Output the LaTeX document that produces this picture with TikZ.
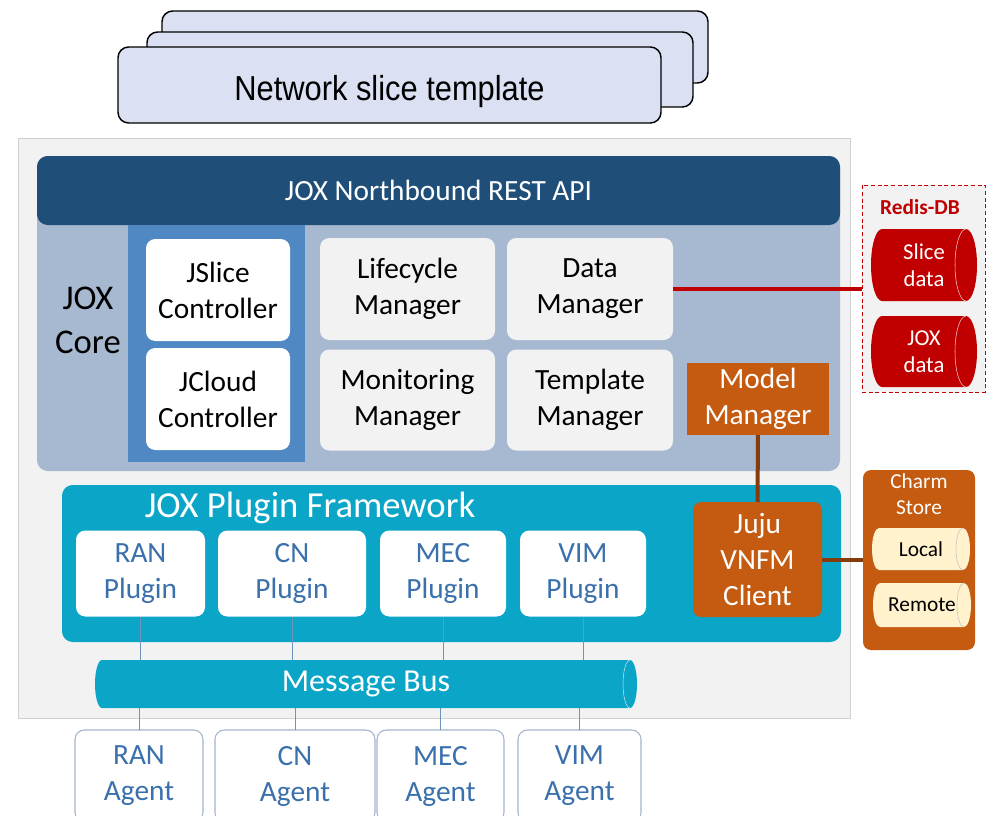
\documentclass[tikz,border=0pt]{standalone}
\usepackage{fontspec}
\setmainfont{Carlito}
\newfontfamily\arialf{Liberation Sans}
\pgfdeclarelayer{fg}
\pgfsetlayers{main,fg}
\definecolor{tmplfill}{HTML}{DCE0F3}
\definecolor{outerfill}{HTML}{F2F2F2}
\definecolor{outerdraw}{HTML}{D0D0D0}
\definecolor{apiblue}{HTML}{1F4E79}
\definecolor{coregray}{HTML}{A7B8D1}
\definecolor{ctrlblue}{HTML}{5088C3}
\definecolor{mgrgray}{HTML}{F2F2F2}
\definecolor{orng}{HTML}{C55A11}
\definecolor{brwn}{HTML}{843C0C}
\definecolor{dred}{HTML}{C00000}
\definecolor{teal}{HTML}{0BA5C8}
\definecolor{plgblue}{HTML}{3A70AC}
\definecolor{agentdraw}{HTML}{A5B6CC}
\definecolor{linkblue}{HTML}{6E93BC}
\definecolor{localfill}{HTML}{FFF2CC}
% cylinder body: node name, fill, x radius (px), y radius (px), inner arc colour
\newcommand\drawcyl[5]{%
  \fill[#2] ([xshift=#3*0.75pt]#1.north west) -- ([xshift=-#3*0.75pt]#1.north east)
    arc[start angle=90,end angle=-90,x radius=#3*0.75pt,y radius=#4*0.75pt]
    -- ([xshift=#3*0.75pt]#1.south west)
    arc[start angle=270,end angle=90,x radius=#3*0.75pt,y radius=#4*0.75pt] -- cycle;
  \draw[#5,line width=0.4pt] ([xshift=-#3*0.75pt]#1.north east)
    arc[start angle=90,end angle=270,x radius=#3*0.75pt,y radius=#4*0.75pt];
}
\begin{document}
\begin{tikzpicture}[x=0.75pt,y=-0.75pt,
  wh/.style 2 args={minimum width=#1*0.75pt,minimum height=#2*0.75pt},
  every node/.style={inner sep=0pt,outer sep=0pt,align=center},
  tmpl/.style={draw=black,line width=1.1pt,fill=tmplfill,rounded corners=8pt},
  box/.style={fill=white,rounded corners=7pt,font=\fontsize{22}{27}\selectfont},
  mgr/.style={fill=mgrgray,rounded corners=7pt,font=\fontsize{22}{27}\selectfont},
  plg/.style={fill=white,rounded corners=7pt,text=plgblue,font=\fontsize{22}{27}\selectfont},
  agt/.style={fill=white,draw=agentdraw,line width=0.8pt,rounded corners=7pt,text=plgblue,font=\fontsize{22}{27}\selectfont},
  link/.style={draw=linkblue,line width=0.7pt},
]
\useasboundingbox (0,0) rectangle (986,815);
% template stack
\node[tmpl,wh={546}{72}] (tback) at (435,47) {};
\node[tmpl,wh={546}{75}] (tmid) at (420,69.5) {};
\node[tmpl,wh={543}{76},font=\arialf\fontsize{26}{30}\selectfont] (tfront) at (389.5,85) {\raisebox{-11.5pt}[0pt][0pt]{\scalebox{0.89}[1]{Network slice template}}};
% outer panel
\node[fill=outerfill,draw=outerdraw,line width=0.6pt,wh={832}{580}] (outer) at (434,428) {};
% core
\node[fill=coregray,rounded corners=8pt,wh={803}{315}] (core) at (438.5,313.5) {};
\node[fill=apiblue,rounded corners=8pt,wh={803}{69},text=white,font=\fontsize{22}{27}\selectfont] (api) at (438.5,190.5) {JOX Northbound REST API};
\node[font=\fontsize{26}{33}\selectfont] (corelbl) at (88,320) {JOX\\Core};
\node[fill=ctrlblue,wh={177}{237}] (ctrl) at (216.5,343.5) {};
\node[box,wh={144}{102}] (jslice) at (218,290) {JSlice\\Controller};
\node[box,wh={144}{102}] (jcloud) at (218,399) {JCloud\\Controller};
\node[mgr,wh={175}{102}] (life) at (407.5,289) {Lifecycle\\Manager};
\node[mgr,wh={166}{102}] (data) at (590,289) {Data\\Manager};
\node[mgr,wh={175}{101}] (mon) at (407.5,400) {Monitoring\\Manager};
\node[mgr,wh={166}{101}] (tmpm) at (590,400) {Template\\Manager};
\node[fill=orng,wh={142}{72},text=white,font=\fontsize{22}{27}\selectfont] (model) at (758,399) {Model\\Manager};
% redis
\node[fill=outerfill,draw=dred,densely dashed,line width=0.5pt,wh={123}{207}] (redis) at (923.5,288.5) {};
\node[text=dred,font=\bfseries\fontsize{16}{20}\selectfont] (redist) at (920,207) {Redis-DB};
\begin{pgfonlayer}{fg}
\node[wh={106}{72},text=white,font=\fontsize{17}{20}\selectfont] (slice) at (924,265) {Slice\\data};
\node[wh={106}{71},text=white,font=\fontsize{17}{20}\selectfont] (joxd) at (924,351.5) {JOX\\data};
\end{pgfonlayer}
\drawcyl{slice}{dred}{11}{36}{white!80!dred}
\drawcyl{joxd}{dred}{11}{35.5}{white!80!dred}
% plugin framework
\node[fill=teal,rounded corners=8pt,wh={779}{157}] (pf) at (451.5,563.5) {};
\node[text=white,font=\fontsize{27.5}{33}\selectfont] (pft) at (310,508) {JOX Plugin Framework};
\node[plg,wh={129}{86}] (ranp) at (140.5,573.5) {RAN\\Plugin};
\node[plg,wh={148}{86}] (cnp) at (292,573.5) {CN\\Plugin};
\node[plg,wh={126}{86}] (mecp) at (443,573.5) {MEC\\Plugin};
\node[plg,wh={126}{86}] (vimp) at (583,573.5) {VIM\\Plugin};
\node[fill=orng,rounded corners=6pt,wh={129}{115},text=white,font=\fontsize{22}{27}\selectfont] (juju) at (757.5,559.5) {Juju\\VNFM\\Client};
% charm store
\node[fill=orng,rounded corners=6pt,wh={112}{180}] (charm) at (919,560) {};
\node[text=white,font=\fontsize{16}{19}\selectfont] (charmt) at (919,494) {Charm\\Store};
\begin{pgfonlayer}{fg}
\node[wh={98}{42},font=\fontsize{16}{19}\selectfont] (local) at (921,549) {Local};
\node[wh={98}{44},font=\fontsize{16}{19}\selectfont] (remote) at (922,605) {Remote};
\end{pgfonlayer}
\drawcyl{local}{localfill}{7}{21}{gray!50}
\drawcyl{remote}{localfill}{7}{22}{gray!50}
% message bus
\begin{pgfonlayer}{fg}
\node[wh={542}{48},text=white,font=\fontsize{24}{29}\selectfont] (bus) at (366,684) {Message Bus};
\end{pgfonlayer}
\drawcyl{bus}{teal}{7}{24}{white!75!teal}
% agents
\node[agt,wh={128}{92}] (rana) at (139,776) {RAN\\Agent};
\node[agt,wh={160}{92}] (cna) at (295,776) {CN\\Agent};
\node[agt,wh={127}{92}] (meca) at (440.5,776) {MEC\\Agent};
\node[agt,wh={123}{92}] (vima) at (579.5,776) {VIM\\Agent};
% connectors
\draw[dred,line width=2.4pt] (data.east) -- (data.east -| redis.west);
\draw[brwn,line width=3pt] (model.south) -- (juju.north);
\draw[brwn,line width=3pt] (juju.east) -- (juju.east -| charm.west);
\foreach \p/\a in {ranp/rana,cnp/cna,mecp/meca,vimp/vima}{
  \draw[link] (\p.south) -- (\p.south |- bus.north);
  \draw[link] (\a.north |- bus.south) -- (\a.north);
}
\end{tikzpicture}
\end{document}
